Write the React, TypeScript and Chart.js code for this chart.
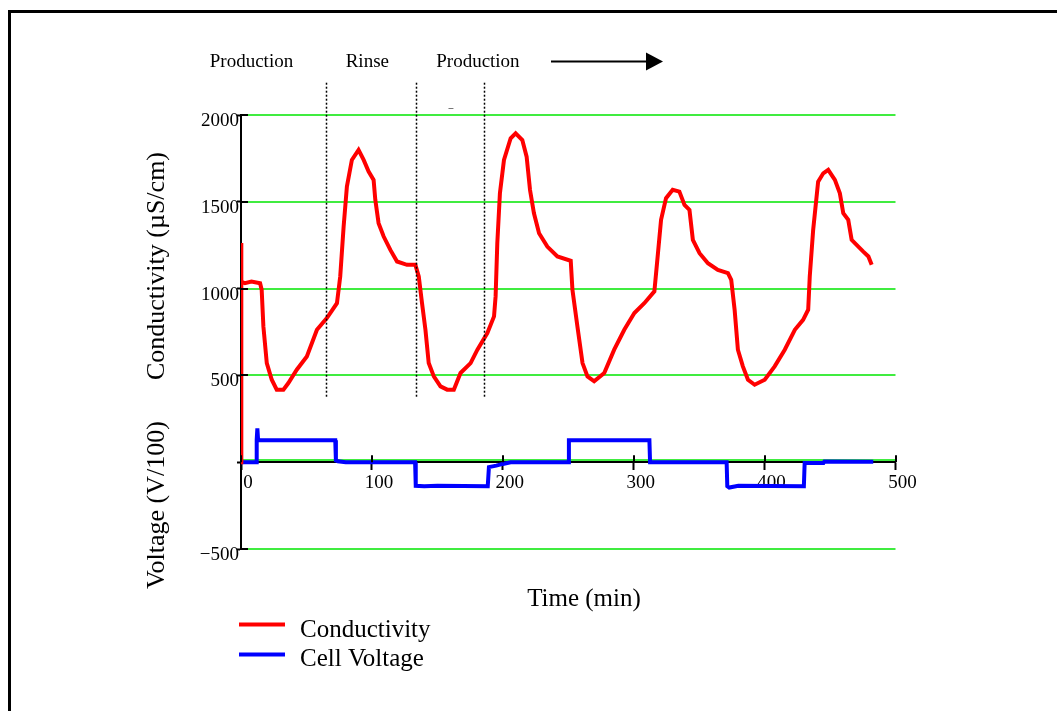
import { useEffect, useRef } from 'react';
import { Chart, registerables } from 'chart.js';

Chart.register(...registerables);

// ---- Data ----
const condTime = [
  0, 0, 0.5, 3, 8, 14.6, 15.8, 17.1, 19.7, 23.5, 27.3, 32.4, 36.2, 42.6, 50.3, 58, 65.6, 73.3,
  75.8, 78.4, 80.9, 84.7, 89.8, 93.7, 97.5, 101.3, 102.6, 105.1, 109, 114.1, 119.2, 126.8,
  133.2, 135.8, 138.3, 140.9, 143.4, 147.3, 152.4, 157.5, 162.6, 167.7, 175.4, 180.6, 188.2,
  193.3, 194.5, 195.8, 197.8, 200.9, 206, 209.8, 214.9, 218.2, 220.8, 223.8, 227.7, 234,
  241.7, 251.9, 253.2, 257, 260.9, 264.7, 269.8, 277.5, 285.1, 292.8, 300.5, 308.1, 315.8,
  318.3, 320.9, 324.7, 329.8, 334.9, 338.8, 342.6, 345.2, 350.3, 356.7, 364.3, 372, 374.5,
  377.1, 379.6, 383.4, 387.3, 392.4, 400.1, 407.7, 415.4, 423.1, 429.4, 433.3, 434.5, 437.1,
  440.9, 444.8, 448.6, 453.7, 457.5, 460.1, 463.9, 466.5, 471.6, 475.4, 479.3, 481.8,
];
const condValue = [
  0, 1262, 1040, 1031, 1040, 1031, 993, 782, 571, 475, 418, 418, 456, 533, 609, 763, 830, 916,
  1070, 1357, 1588, 1741, 1799, 1741, 1674, 1626, 1511, 1377, 1300, 1223, 1156, 1137,
  1137, 1070, 916, 763, 571, 494, 437, 418, 418, 514, 571, 648, 744,
  840, 955, 1262, 1549, 1741, 1866, 1895, 1856, 1760, 1568, 1434, 1319, 1242,
  1185, 1160, 993, 782, 571, 494, 466, 514, 648, 763, 859, 916, 984,
  1185, 1396, 1521, 1569, 1559, 1482, 1453, 1281, 1204, 1146, 1108, 1089, 1051,
  878, 648, 552, 475, 446, 475, 552, 648, 763, 820, 878, 1070, 1338,
  1616, 1664, 1684, 1626, 1549, 1434, 1396, 1281, 1242, 1213, 1185, 1137,
];

const voltTime = [
  0, 11.5, 12, 12.5, 13, 14, 72, 72.5, 74, 80, 133, 133.5, 140, 150, 170, 188.5, 189.4, 195,
  200, 206, 250, 250.5, 312, 312.5, 371, 371.5, 373, 380, 430, 430.6, 445, 445.7, 483,
];
const voltValue = [
  0, 0, 130, 195, 135, 126, 126, 10, 5, 0, 0, -136, -138, -136, -137, -138, -28, -20,
  -10, 0, 0, 126, 126, 0, 0, -138, -146, -136, -138, -4, -4, 4, 2,
];

const seriesNames = ['Conductivity', 'Cell Voltage'];
const seriesColors = ['rgb(255,0,0)', 'rgb(0,0,255)'];

const xTickValues = [0, 100, 200, 300, 400, 500];
const yTickValues = [-500, 0, 500, 1000, 1500, 2000];

const phaseLabels = ['Production', 'Rinse', 'Production'];
const phaseLabelTimes = [8, 96.5, 181];
const phaseBoundaries = [65, 134, 186];

const xTitle = 'Time (min)';
const yTitleTop = 'Conductivity (µS/cm)';
const yTitleBottom = 'Voltage (V/100)';

const FONT = "'Liberation Serif', 'Times New Roman', serif";
const GRID_GREEN = 'rgb(0,230,0)';

const gridPlugin = {
  id: 'greenGrid',
  beforeDatasetsDraw(chart: any) {
    const ctx = chart.ctx as CanvasRenderingContext2D;
    const ys = chart.scales.y;
    const ca = chart.chartArea;
    ctx.save();
    ctx.strokeStyle = GRID_GREEN;
    ctx.lineWidth = 1.4;
    ys.ticks.forEach((t: any) => {
      const y = Math.round(ys.getPixelForValue(t.value)) + (t.value === 0 ? -2 : 0);
      ctx.beginPath();
      ctx.moveTo(ca.left, y);
      ctx.lineTo(ca.right, y);
      ctx.stroke();
    });
    ctx.restore();
  },
};

const overlay = {
  id: 'overlay',
  afterDraw(chart: any) {
    const ctx = chart.ctx as CanvasRenderingContext2D;
    const xs = chart.scales.x;
    const ys = chart.scales.y;
    const ca = chart.chartArea;
    ctx.save();

    // outer frame
    ctx.strokeStyle = '#000';
    ctx.lineWidth = 3;
    ctx.strokeRect(9.5, 11.5, 3000, 3000);

    // y tick marks crossing the axis
    ctx.lineWidth = 2;
    ctx.beginPath();
    ys.ticks.forEach((t: any) => {
      if (t.value === 0) return;
      const y = Math.round(ys.getPixelForValue(t.value));
      ctx.moveTo(ca.left, y);
      ctx.lineTo(ca.left + 7, y);
    });
    // x tick marks upward part
    const y0 = ys.getPixelForValue(0);
    xs.ticks.forEach((t: any) => {
      const x = Math.round(xs.getPixelForValue(t.value));
      ctx.moveTo(x, y0 - 7);
      ctx.lineTo(x, y0);
    });
    ctx.stroke();

    // dotted phase boundaries
    ctx.save();
    ctx.setLineDash([2, 2]);
    ctx.lineWidth = 1.5;
    ctx.strokeStyle = '#000';
    phaseBoundaries.forEach((b) => {
      const x = Math.round(xs.getPixelForValue(b)) + 0.5;
      ctx.beginPath();
      ctx.moveTo(x, ys.getPixelForValue(2186));
      ctx.lineTo(x, ys.getPixelForValue(372));
      ctx.stroke();
    });
    ctx.restore();

    // stray dash
    ctx.strokeStyle = '#777';
    ctx.lineWidth = 1;
    ctx.beginPath();
    ctx.moveTo(xs.getPixelForValue(158.5), Math.round(ys.getPixelForValue(2042)) + 0.5);
    ctx.lineTo(xs.getPixelForValue(162.3), Math.round(ys.getPixelForValue(2042)) + 0.5);
    ctx.stroke();

    // phase labels
    ctx.fillStyle = '#000';
    ctx.font = `19px ${FONT}`;
    ctx.textAlign = 'center';
    ctx.textBaseline = 'alphabetic';
    phaseLabels.forEach((l, i) => {
      ctx.fillText(l, xs.getPixelForValue(phaseLabelTimes[i]), 67);
    });

    // arrow
    const ax0 = 551, ax1 = 663, ay = 61.5;
    ctx.strokeStyle = '#000';
    ctx.lineWidth = 2;
    ctx.beginPath();
    ctx.moveTo(ax0, ay);
    ctx.lineTo(ax1 - 14, ay);
    ctx.stroke();
    ctx.beginPath();
    ctx.moveTo(ax1 - 17, ay - 9);
    ctx.lineTo(ax1, ay);
    ctx.lineTo(ax1 - 17, ay + 9);
    ctx.closePath();
    ctx.fill();

    // axis titles
    ctx.textAlign = 'center';
    ctx.textBaseline = 'middle';
    ctx.font = `25px ${FONT}`;
    ctx.fillText(xTitle, 584, 599);
    ctx.font = `26px ${FONT}`;
    ctx.save();
    ctx.translate(157, 266);
    ctx.rotate(-Math.PI / 2);
    ctx.fillText(yTitleTop, 0, 0);
    ctx.restore();
    ctx.save();
    ctx.translate(157, 505);
    ctx.rotate(-Math.PI / 2);
    ctx.fillText(yTitleBottom, 0, 0);
    ctx.restore();

    // legend
    ctx.font = `25px ${FONT}`;
    const legY = [624.5, 654.5];
    const txtY = [637, 666];
    chart.data.datasets.forEach((ds: any, i: number) => {
      ctx.strokeStyle = ds.borderColor;
      ctx.lineWidth = 4;
      ctx.beginPath();
      ctx.moveTo(239, legY[i]);
      ctx.lineTo(285, legY[i]);
      ctx.stroke();
      ctx.fillStyle = '#000';
      ctx.textAlign = 'left';
      ctx.textBaseline = 'alphabetic';
      ctx.fillText(ds.label, 300, txtY[i]);
    });

    ctx.restore();
  },
};

export default function App() {
  const ref = useRef<HTMLCanvasElement>(null);

  useEffect(() => {
    if (!ref.current) return;
    Chart.defaults.font.family = FONT;
    Chart.defaults.color = '#000';
    const chart = new Chart(ref.current, {
      type: 'line',
      data: {
        datasets: [
          {
            label: seriesNames[0],
            data: condTime.map((t, i) => ({ x: t, y: condValue[i] })),
            borderColor: seriesColors[0],
            backgroundColor: seriesColors[0],
            borderWidth: 4,
            pointRadius: 0,
            tension: 0,
          },
          {
            label: seriesNames[1],
            data: voltTime.map((t, i) => ({ x: t, y: voltValue[i] })),
            borderColor: seriesColors[1],
            backgroundColor: seriesColors[1],
            borderWidth: 4,
            pointRadius: 0,
            tension: 0,
          },
        ],
      },
      options: {
        responsive: false,
        animation: false,
        devicePixelRatio: 1,
        layout: { padding: { left: 181, right: 161.5, top: 115, bottom: 162 } },
        plugins: { legend: { display: false }, tooltip: { enabled: false } },
        scales: {
          x: {
            type: 'linear',
            position: { y: 0 } as any,
            min: 0,
            max: 500,
            afterFit: (s: any) => { s.height = 0; },
            afterBuildTicks: (s: any) => { s.ticks = xTickValues.map((v) => ({ value: v })); },
            grid: {
              display: true,
              drawOnChartArea: false,
              drawTicks: true,
              tickLength: 7,
              tickColor: '#000',
              tickWidth: 2,
            },
            border: { display: true, color: '#000', width: 2 },
            ticks: {
              padding: 2,
              labelOffset: 7,
              maxRotation: 0,
              font: { size: 19, family: FONT },
              color: '#000',
            },
          },
          y: {
            type: 'linear',
            position: 'left',
            min: -500,
            max: 2000,
            afterFit: (s: any) => { s.width = 60; },
            afterBuildTicks: (s: any) => { s.ticks = yTickValues.map((v) => ({ value: v })); },
            grid: {
              display: true,
              drawOnChartArea: false,
              drawTicks: true,
              tickLength: 4,
              tickColor: '#000',
              tickWidth: 2,
            },
            border: { display: true, color: '#000', width: 2 },
            ticks: {
              padding: -2,
              labelOffset: 6,
              font: { size: 19, family: FONT },
              color: '#000',
              callback: (v: any) => (v === 0 ? '' : v < 0 ? '\u2212' + Math.abs(v) : String(v)),
            },
          },
        },
      },
      plugins: [gridPlugin, overlay],
    });
    return () => chart.destroy();
  }, []);

  return (
    <div style={{ position: 'absolute', left: 0, top: 0, width: 1057, height: 711, background: '#fff' }}>
      <canvas ref={ref} width={1057} height={711} style={{ display: 'block' }} />
    </div>
  );
}
